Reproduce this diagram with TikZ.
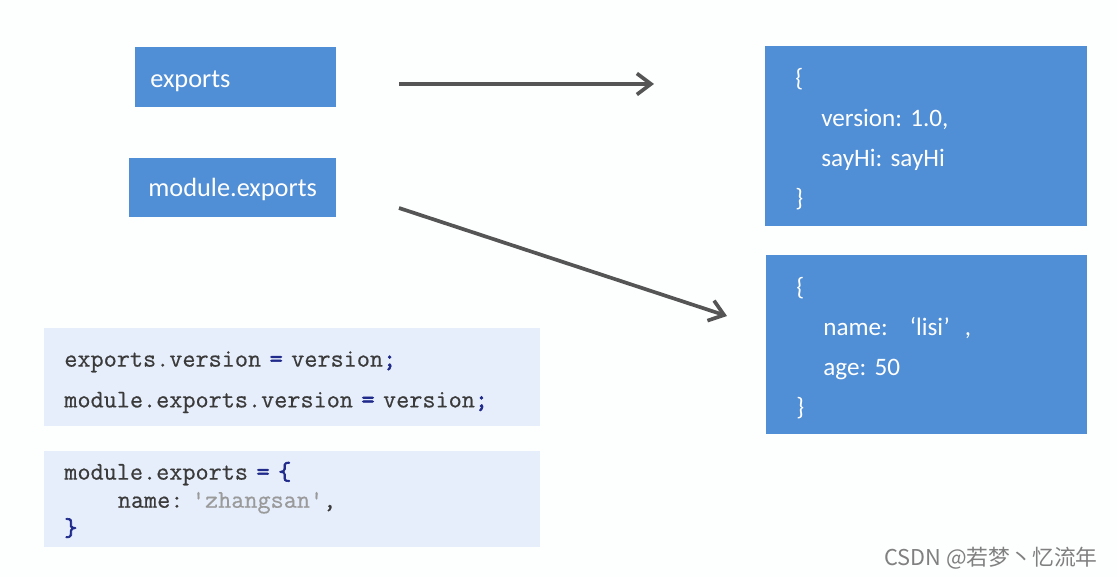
\documentclass[tikz,border=0pt]{standalone}
\usepackage{fontspec}
\setmainfont{Carlito}
\newfontfamily\codefont[FakeBold=0.5]{Latin Modern Mono}
\newfontfamily\codebold[FakeBold=2.5]{Latin Modern Mono}
\newfontfamily\cjkfont{Noto Sans CJK SC}
\usetikzlibrary{arrows.meta}
\definecolor{boxblue}{HTML}{508ED5}
\definecolor{codebg}{HTML}{E6EEFB}
\definecolor{arrowgray}{HTML}{555555}
\definecolor{codenavy}{HTML}{1F2A8A}
\definecolor{codetext}{HTML}{3A3A3A}
\definecolor{strgray}{HTML}{9A9A9A}
\definecolor{pagebg}{HTML}{FDFEFE}
\tikzset{>={Straight Barb[length=8pt,width=12pt]}}
\newcommand{\op}[1]{\textcolor{codenavy}{\codebold #1}}
\frenchspacing

\begin{document}
\begin{tikzpicture}[x=0.02cm, y=-0.02cm,
  bluebox/.style={fill=boxblue, text=white, align=left, inner ysep=0pt},
  codebox/.style={fill=codebg, text=codetext, align=left, inner ysep=0pt, inner xsep=0.4cm, text width=9.12cm},
  arr/.style={->, line width=2.1pt, draw=arrowgray}]
\fill[pagebg] (0,0) rectangle (1117,577);
\useasboundingbox (0,0) rectangle (1117,577);
% left labels
\node[bluebox, font=\fontsize{15}{18}\selectfont, inner xsep=0.3cm, text width=3.42cm,
  text height=22.7pt, text depth=11.3pt, anchor=north west] (exp) at (135,47) {exports};
\node[bluebox, font=\fontsize{15}{18}\selectfont, inner xsep=0.38cm, text width=3.38cm,
  text height=21.5pt, text depth=11.9pt, anchor=north west] (mexp) at (129,158) {module.exports};
% objects
\node[bluebox, font=\fontsize{14.3}{22.7}\selectfont, inner xsep=0.6cm, text width=5.24cm,
  text height=23pt, text depth=79pt, anchor=north west] (obja) at (765,46)
  {\{\\ \hspace*{0.52cm}version: 1.0,\\ \hspace*{0.52cm}sayHi: sayHi\\ \}};
\node[bluebox, font=\fontsize{14.3}{22.7}\selectfont, inner xsep=0.6cm, text width=5.22cm,
  text height=23pt, text depth=78.5pt, anchor=north west] (objb) at (766,255)
  {\{\\ \hspace*{0.54cm}name:\hspace{0.44cm}‘lisi’\hspace{0.3cm},\\ \hspace*{0.54cm}age: 50\\ \}};
% code
\node[codebox, font=\codefont\fontsize{14.5}{23.2}\selectfont, text height=21.8pt, text depth=33.8pt,
  anchor=north west] (codea) at (44,328)
  {exports.version \op{=} version\op{;}\\ module.exports.version \op{=} version\op{;}};
\node[codebox, font=\codefont\fontsize{14.5}{16}\selectfont, text height=16.1pt, text depth=38.3pt,
  anchor=north west] (codeb) at (44,451)
  {module.exports \op{=} \op{\{}\\ \hspace*{2.1em}name: \textcolor{strgray}{'zhangsan'},\\ \op{\}}};
% arrows
\coordinate (s1) at (399,84);
\coordinate (e1) at (654,84);
\coordinate (s2) at (399,208);
\coordinate (e2) at (727,316);
\draw[arr] (s1) -- (e1);
\draw[arr] (s2) -- (e2);
\node[text=gray, font=\cjkfont\fontsize{12.4}{14}\selectfont, anchor=west, inner sep=0pt] (mark) at (884,558) {CSDN @若梦丶忆流年};
\end{tikzpicture}
\end{document}
